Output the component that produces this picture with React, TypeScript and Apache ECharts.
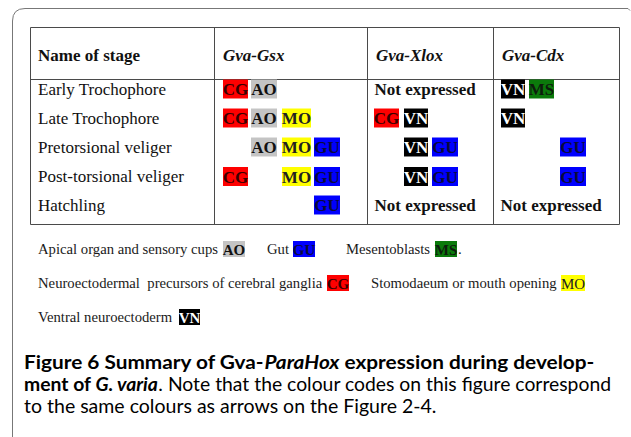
import React, { useEffect, useRef } from "react";
import * as echarts from "echarts";

// ---------- data ----------
const headerLabel = "Name of stage";
const genes = ["Gva-Gsx", "Gva-Xlox", "Gva-Cdx"];
const stages = [
  "Early Trochophore",
  "Late Trochophore",
  "Pretorsional veliger",
  "Post-torsional veliger",
  "Hatchling",
];
const gsxMarks = [["CG", "AO"], ["CG", "AO", "MO"], ["AO", "MO", "GU"], ["CG", "MO", "GU"], ["GU"]];
const xloxMarks = [[], ["CG", "VN"], ["VN", "GU"], ["VN", "GU"], []];
const cdxMarks = [["VN", "MS"], ["VN"], ["GU"], ["GU"], []];
const notExpressed = "Not expressed";

const codes = ["AO", "GU", "MS", "CG", "MO", "VN"];
const codeNames = [
  "Apical organ and sensory cups",
  "Gut",
  "Mesentoblasts",
  "Neuroectodermal  precursors of cerebral ganglia",
  "Stomodaeum or mouth opening",
  "Ventral neuroectoderm",
];
const codeColors = ["#c4c4c4", "#0000fe", "#0b7a0b", "#fe0000", "#ffff00", "#000000"];
const codeTextColors = ["#111111", "#0a0a3a", "#0d1d0d", "#3a0000", "#222222", "#ffffff"];

const captionLines = [
  [["b", "Figure 6 Summary of Gva-"], ["bi", "ParaHox"], ["b", " expression during develop-"]],
  [["b", "ment of "], ["bi", "G. varia"], ["r", ". Note that the colour codes on this figure correspond"]],
  [["r", "to the same colours as arrows on the Figure 2-4."]],
];

// ---------- layout ----------
const SERIF = "'Liberation Serif','Times New Roman',serif";
const SANS = "Lato,'Open Sans',sans-serif";
const T = { left: 30.5, right: 619.5, top: 27.5, head: 79.5, bottom: 224.5 };
const colX = [214.5, 367.5, 493.5];
const rowY = [89, 118, 147, 176.5, 205];
const badgeW: Record<string, number> = { CG: 25, AO: 26, MO: 29, GU: 26, VN: 24, MS: 25 };
const slotX: Record<string, number>[] = [
  { CG: 223, AO: 251, MO: 282, GU: 314 },
  { CG: 374, VN: 404, GU: 432 },
  { VN: 501, MS: 529, GU: 560 },
];
const legendRows = [249, 283, 317];
const legendPos = [
  { row: 0, tx: 38, bx: 223, bw: 22 },
  { row: 0, tx: 267, bx: 293, bw: 22 },
  { row: 0, tx: 346, bx: 435, bw: 22 },
  { row: 1, tx: 38, bx: 327, bw: 22 },
  { row: 1, tx: 371, bx: 561, bw: 24 },
  { row: 2, tx: 38, bx: 179, bw: 21 },
];
const captionY = [362, 384, 406];
const captionScaleX = [1.137, 1.057, 1.067];

export default function App() {
  const ref = useRef<HTMLDivElement>(null);
  useEffect(() => {
    document.body.style.margin = "0";
    if (!ref.current) return;
    const chart = echarts.init(ref.current, null, { renderer: "svg" });
    echarts.graphic.registerShape(
      "frame",
      echarts.graphic.extendPath("M12.5,437 L12.5,21 Q12.5,8.5 25,8.5 L628,8.5 L630,10.5", {}) as any
    );

    const els: any[] = [];
    const line = (x1: number, y1: number, x2: number, y2: number, stroke = "#4a4a4a") =>
      els.push({ type: "line", shape: { x1, y1, x2, y2 }, style: { stroke, lineWidth: 1 } });

    els.push({ type: "frame", style: { fill: "none", stroke: "#777", lineWidth: 1 } });

    // table grid
    line(T.left, T.top, T.right, T.top);
    line(T.left, T.bottom, T.right, T.bottom);
    line(T.left, T.head, T.right, T.head);
    line(T.left, T.top, T.left, T.bottom);
    line(T.right, T.top, T.right, T.bottom);
    colX.forEach((x) => line(x, T.top, x, T.bottom));

    // header
    els.push({
      type: "text", x: 38, y: 55,
      style: { text: headerLabel, font: `bold 17px ${SERIF}`, fill: "#111", verticalAlign: "middle" },
    });
    genes.forEach((g, i) =>
      els.push({
        type: "text", x: colX[i] + 8.5, y: 55,
        style: { text: g, font: `italic bold 17px ${SERIF}`, fill: "#111", verticalAlign: "middle" },
      })
    );

    // rows
    const badge = (code: string, x: number, y: number, w: number, h: number, size: number, weight = "bold") => {
      const ci = codes.indexOf(code);
      els.push({
        type: "rect", shape: { x, y: y - h / 2, width: w, height: h },
        style: { fill: codeColors[ci] },
      });
      els.push({
        type: "text", x: x + w / 2, y: y + 0.5,
        style: {
          text: code, font: `${weight} ${size}px ${SERIF}`, fill: codeTextColors[ci],
          align: "center", verticalAlign: "middle",
        },
      });
    };

    const geneMarks = [gsxMarks, xloxMarks, cdxMarks];
    stages.forEach((s, r) => {
      const y = rowY[r];
      els.push({
        type: "text", x: 38, y,
        style: { text: s, font: `17px ${SERIF}`, fill: "#111", verticalAlign: "middle" },
      });
      geneMarks.forEach((marks, gi) => {
        const m = marks[r];
        if (m.length === 0) {
          if (gi > 0) {
            els.push({
              type: "text", x: colX[gi] + 7, y,
              style: { text: notExpressed, font: `bold 17px ${SERIF}`, fill: "#111", verticalAlign: "middle" },
            });
          }
          return;
        }
        m.forEach((code) => badge(code, slotX[gi][code], y, badgeW[code], 19, 17));
      });
    });

    // legend
    codes.forEach((code, i) => {
      const p = legendPos[i];
      const y = legendRows[p.row];
      els.push({
        type: "text", x: p.tx, y,
        style: { text: codeNames[i], font: `14.7px ${SERIF}`, fill: "#1a1a1a", verticalAlign: "middle" },
      });
      badge(code, p.bx, y, p.bw, 16, 15, code === "MO" ? "normal" : "bold");
      if (code === "MS") {
        els.push({
          type: "text", x: p.bx + p.bw + 1, y,
          style: { text: ".", font: `15px ${SERIF}`, fill: "#1a1a1a", verticalAlign: "middle" },
        });
      }
    });

    // caption
    const fs = 18.3;
    const rich = {
      b: { fontFamily: SANS, fontWeight: "bold", fontSize: fs, lineHeight: 20, color: "#231f20" },
      bi: { fontFamily: SANS, fontWeight: "bold", fontStyle: "italic", fontSize: fs, lineHeight: 20, color: "#231f20" },
      r: { fontFamily: SANS, fontWeight: "normal", fontSize: fs, lineHeight: 20, color: "#231f20" },
    };
    captionLines.forEach((parts, i) => {
      els.push({
        type: "text", x: 24, y: captionY[i], scaleX: captionScaleX[i],
        style: {
          text: parts.map(([k, t]) => `{${k}|${t}}`).join(""),
          rich, verticalAlign: "middle", lineHeight: 20,
        },
      });
    });

    chart.setOption({ animation: false, graphic: { elements: els } });
    return () => chart.dispose();
  }, []);
  return <div ref={ref} style={{ width: 631, height: 437, background: "#fff" }} />;
}
